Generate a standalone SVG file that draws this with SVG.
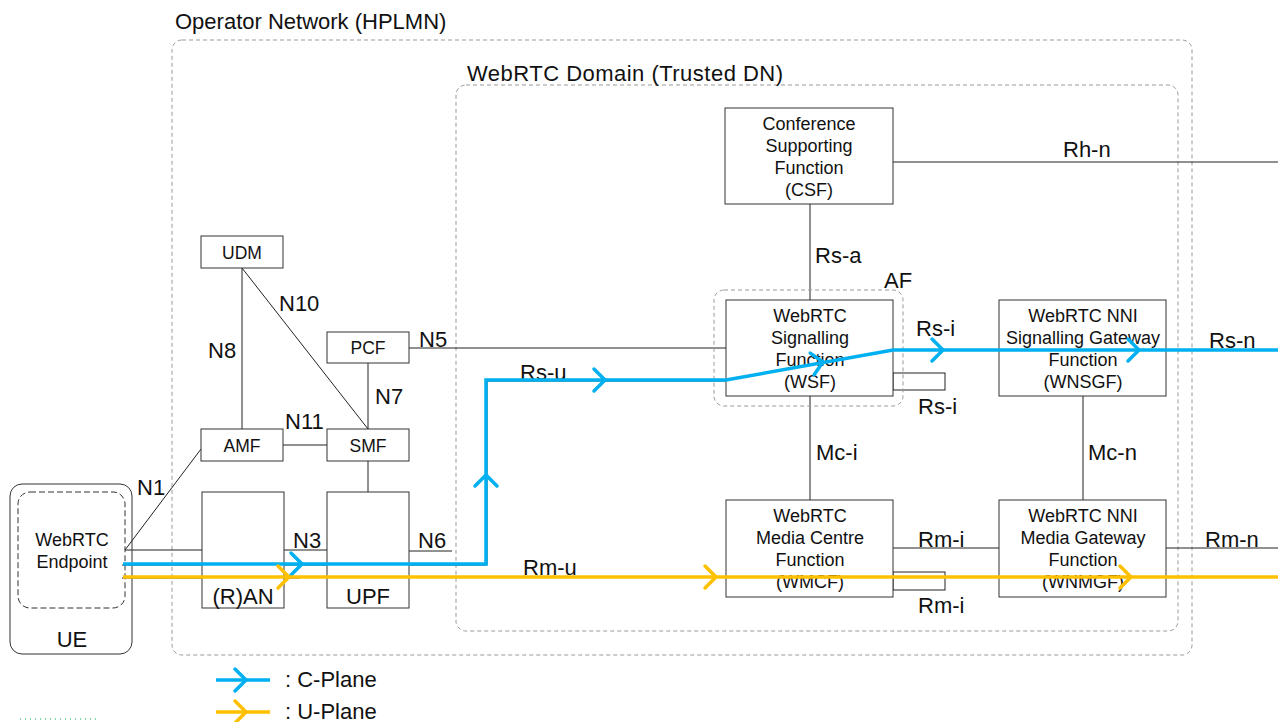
<svg xmlns="http://www.w3.org/2000/svg" width="1278" height="722" viewBox="0 0 1278 722">
<style>
text{font-family:"Liberation Sans",Arial,sans-serif;fill:#111;}
.n{font-size:18px;text-anchor:middle;}
.s{font-size:17.5px;text-anchor:middle;}
.l{font-size:22px;}
.box{fill:#fff;stroke:#333;stroke-width:1;}
.ln{stroke:#222;stroke-width:1;fill:none;}
.dash{fill:none;stroke:#999;stroke-width:1;stroke-dasharray:4 3;}
.cp{stroke:#00B0F0;stroke-width:3.5;fill:none;stroke-linejoin:miter;}
.up{stroke:#FFC000;stroke-width:3.5;fill:none;}
</style>
<defs>
<path id="chev" d="M-11,-11 L0,0 L-11,11" stroke-width="3.5" fill="none" stroke-linecap="round" stroke-linejoin="miter"/>
</defs>
<rect width="1278" height="722" fill="#fff"/>

<g id="operator-network">
<rect class="dash" x="172" y="40" width="1020" height="615" rx="10"/>
<text class="l" x="175" y="29">Operator Network (HPLMN)</text>
</g>
<g id="webrtc-domain">
<rect class="dash" x="456" y="85" width="722" height="546" rx="10"/>
<text class="l" x="467" y="81" textLength="316" lengthAdjust="spacing">WebRTC Domain (Trusted DN)</text>
</g>

<g id="connectors">
<line class="ln" x1="242" y1="268" x2="242" y2="429"/>
<line class="ln" x1="242" y1="268" x2="368" y2="429"/>
<line class="ln" x1="368" y1="363" x2="368" y2="429"/>
<line class="ln" x1="283" y1="445" x2="327" y2="445"/>
<line class="ln" x1="368" y1="461" x2="368" y2="492"/>
<line class="ln" x1="409" y1="348" x2="726" y2="348"/>
<line class="ln" x1="201" y1="449" x2="125" y2="550"/>
<line class="ln" x1="125" y1="550" x2="202" y2="550"/>
<line class="ln" x1="284" y1="550" x2="327" y2="550"/>
<line class="ln" x1="409" y1="551" x2="452" y2="551"/>
<line class="ln" x1="810" y1="204" x2="810" y2="300"/>
<line class="ln" x1="893" y1="162" x2="1278" y2="162"/>
<line class="ln" x1="893" y1="350" x2="999" y2="350"/>
<line class="ln" x1="1166" y1="350" x2="1278" y2="350"/>
<rect class="ln" x="893" y="373" width="52" height="17"/>
<line class="ln" x1="810" y1="396" x2="810" y2="500"/>
<line class="ln" x1="1083" y1="396" x2="1083" y2="500"/>
<line class="ln" x1="893" y1="548" x2="999" y2="548"/>
<line class="ln" x1="1166" y1="548" x2="1278" y2="548"/>
<rect class="ln" x="893" y="572" width="52" height="18"/>
<polyline class="ln" points="122,565 487,565 487,381 726,381"/>
<line class="ln" x1="122" y1="578" x2="300" y2="578"/>
</g>

<g id="ue">
<rect x="10" y="484" width="122" height="170" rx="12" fill="none" stroke="#333" stroke-width="1"/>
<rect x="18" y="492" width="107" height="116" rx="12" fill="none" stroke="#333" stroke-width="1" stroke-dasharray="6 3"/>
<text class="n" x="72" y="546">WebRTC</text>
<text class="n" x="72" y="568">Endpoint</text>
<text class="l" x="72" y="647" text-anchor="middle">UE</text>
</g>
<g id="udm"><rect class="box" x="201" y="236" width="82" height="32"/><text class="s" x="242" y="259">UDM</text></g>
<g id="pcf"><rect class="box" x="327" y="332" width="82" height="31"/><text class="s" x="368" y="354">PCF</text></g>
<g id="amf"><rect class="box" x="201" y="429" width="82" height="32"/><text class="s" x="242" y="452">AMF</text></g>
<g id="smf"><rect class="box" x="327" y="429" width="82" height="32"/><text class="s" x="368" y="452">SMF</text></g>
<g id="ran"><rect class="box" x="202" y="492" width="82" height="116"/><text class="l" x="243" y="604" text-anchor="middle">(R)AN</text></g>
<g id="upf"><rect class="box" x="327" y="492" width="82" height="116"/><text class="l" x="368" y="604" text-anchor="middle">UPF</text></g>

<g id="csf"><rect class="box" x="725" y="108" width="168" height="96"/>
<text class="n" x="809" y="130">Conference</text><text class="n" x="809" y="152">Supporting</text><text class="n" x="809" y="174">Function</text><text class="n" x="809" y="196">(CSF)</text></g>
<g id="af"><rect class="dash" x="714" y="290" width="189" height="116" rx="10"/><text class="l" x="884" y="288">AF</text></g>
<g id="wsf"><rect class="box" x="726" y="300" width="167" height="96"/>
<text class="n" x="810" y="322">WebRTC</text><text class="n" x="810" y="344">Signalling</text><text class="n" x="810" y="366">Function</text><text class="n" x="810" y="388">(WSF)</text></g>
<g id="wnsgf"><rect class="box" x="999" y="300" width="167" height="96"/>
<text class="n" x="1083" y="322">WebRTC NNI</text><text class="n" x="1083" y="344">Signalling Gateway</text><text class="n" x="1083" y="366">Function</text><text class="n" x="1083" y="388">(WNSGF)</text></g>
<g id="wmcf"><rect class="box" x="726" y="500" width="167" height="97"/>
<text class="n" x="810" y="522">WebRTC</text><text class="n" x="810" y="544">Media Centre</text><text class="n" x="810" y="566">Function</text><text class="n" x="810" y="588">(WMCF)</text></g>
<g id="wnmgf"><rect class="box" x="999" y="500" width="167" height="97"/>
<text class="n" x="1083" y="522">WebRTC NNI</text><text class="n" x="1083" y="544">Media Gateway</text><text class="n" x="1083" y="566">Function</text><text class="n" x="1083" y="588">(WNMGF)</text></g>

<g id="labels">
<text class="l" x="137" y="495">N1</text>
<text class="l" x="208" y="358">N8</text>
<text class="l" x="279" y="311">N10</text>
<text class="l" x="375" y="404">N7</text>
<text class="l" x="285" y="429">N11</text>
<text class="l" x="419" y="347">N5</text>
<text class="l" x="293" y="548">N3</text>
<text class="l" x="418" y="548">N6</text>
<text class="l" x="520" y="380">Rs-u</text>
<text class="l" x="523" y="575">Rm-u</text>
<text class="l" x="815" y="263">Rs-a</text>
<text class="l" x="1063" y="157">Rh-n</text>
<text class="l" x="916" y="336">Rs-i</text>
<text class="l" x="918" y="414">Rs-i</text>
<text class="l" x="1209" y="348">Rs-n</text>
<text class="l" x="816" y="460">Mc-i</text>
<text class="l" x="1088" y="460">Mc-n</text>
<text class="l" x="918" y="547">Rm-i</text>
<text class="l" x="918" y="613">Rm-i</text>
<text class="l" x="1205" y="547">Rm-n</text>
</g>

<g id="c-plane">
<polyline class="cp" points="123,564 486,564 486,380 726,380 893,350 1278,350"/>
<use href="#chev" stroke="#00B0F0" transform="translate(302,564)"/>
<use href="#chev" stroke="#00B0F0" transform="translate(486,475) rotate(-90)"/>
<use href="#chev" stroke="#00B0F0" transform="translate(605,380)"/>
<use href="#chev" stroke="#00B0F0" transform="translate(823,362) rotate(-10.2)"/>
<use href="#chev" stroke="#00B0F0" transform="translate(943,350)"/>
<use href="#chev" stroke="#00B0F0" transform="translate(1139,350)"/>
</g>
<g id="u-plane">
<line class="up" x1="123" y1="577" x2="1278" y2="577"/>
<use href="#chev" stroke="#FFC000" transform="translate(289,577)"/>
<use href="#chev" stroke="#FFC000" transform="translate(716,577)"/>
<use href="#chev" stroke="#FFC000" transform="translate(1131,577)"/>
</g>

<g id="legend">
<line class="cp" x1="216" y1="680" x2="270" y2="680"/>
<use href="#chev" stroke="#00B0F0" transform="translate(246,680)"/>
<text class="l" x="285" y="687">: C-Plane</text>
<line class="up" x1="216" y1="712" x2="270" y2="712"/>
<use href="#chev" stroke="#FFC000" transform="translate(246,712)"/>
<text class="l" x="285" y="719">: U-Plane</text>
<line x1="20" y1="719" x2="100" y2="719" stroke="#00B050" stroke-width="1" stroke-dasharray="1 4"/>
</g>
</svg>
